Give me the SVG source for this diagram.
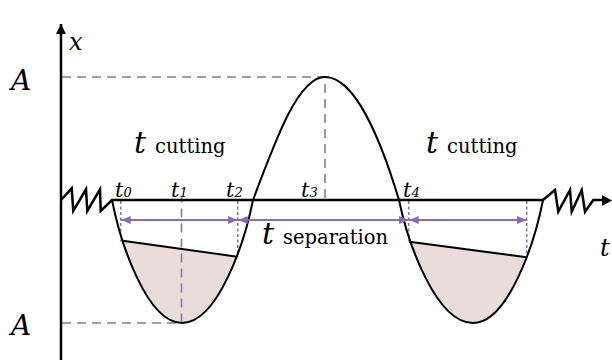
<svg xmlns="http://www.w3.org/2000/svg" width="612" height="360" viewBox="0 0 612 360">
<style>
.ax{stroke:#000;stroke-width:2.5;fill:none}
.curve{stroke:#000;stroke-width:2;fill:none}
.dash{stroke:#8677a6;stroke-width:1.6;stroke-dasharray:9,6;fill:none}
.dot{stroke:#8677a6;stroke-width:1.6;stroke-dasharray:3,2.5;fill:none}
.arr{stroke:#8a6cb2;stroke-width:1.8;fill:none}
.shade{fill:#e9dcda;stroke:none}
.lbl{font-family:"DejaVu Serif",serif;fill:#000}
</style>
<defs>
<marker id="ah" viewBox="0 0 10 8" refX="10" refY="4" markerWidth="10" markerHeight="8" markerUnits="userSpaceOnUse" orient="auto-start-reverse">
<path d="M0,0 L10,4 L0,8 Z" fill="#8a6cb2"/>
</marker>
<marker id="bh" viewBox="0 0 10 10" refX="10" refY="5" markerWidth="10" markerHeight="10" markerUnits="userSpaceOnUse" orient="auto">
<path d="M0,0 L10,5 L0,10 Z" fill="#000"/>
</marker>
<clipPath id="cl"><polygon points="100,237.5 260,259.9 260,340 100,340"/></clipPath>
<clipPath id="cr"><polygon points="390,239.1 550,260.4 550,340 390,340"/></clipPath>
</defs>

<g id="shading">
<path class="shade" clip-path="url(#cl)" d="M112,200 C120.4,243.05 147,323 182,323 C217.5,323 244.5,243.05 253,200 Z"/>
<path class="shade" clip-path="url(#cr)" d="M399,200 C407.9,243.05 436,323 473,323 C508,323 534.6,243.05 543,200 Z"/>
</g>

<g id="guides">
<path class="dash" d="M62,77 H325 V198"/>
<path class="dash" d="M62,323 H181.5 V197"/>
<path class="dot" d="M120.7,201 V241.5"/>
<path class="dot" d="M237.7,201 V256.5"/>
<path class="dot" d="M408.7,201 V241.5"/>
<path class="dot" d="M526.7,201 V257"/>
</g>

<g id="axes">
<line class="ax" x1="61" y1="360" x2="61" y2="24" marker-end="url(#bh)"/>
<polyline class="ax" stroke-width="2" points="61,200 71.7,188.3 73.3,211 86,189.3 87.3,211 100,189.3 100.7,211 112,200 543,200 555,190 558.3,211.7 570,190 571.7,211.7 581.7,190 585,211.7 593.3,200 604,200"/>
<path d="M602,195 L612,200.5 L602,206 Z" fill="#000"/>
</g>

<g id="wave">
<path class="curve" d="M112,200 C120.4,243.05 147,323 182,323 C217.5,323 244.5,243.05 253,200 C277.1,135.4 298.9,77 325,77 C354.6,77 380.5,138.5 399,200 C407.9,243.05 436,323 473,323 C508,323 534.6,243.05 543,200"/>
<line class="curve" x1="122.7" y1="240.7" x2="237.3" y2="256.7"/>
<line class="curve" x1="409.3" y1="241.7" x2="526.7" y2="257.3"/>
</g>

<g id="connectors">
<line class="arr" x1="120.7" y1="220" x2="237.7" y2="220" marker-start="url(#ah)" marker-end="url(#ah)"/>
<line class="arr" x1="237.7" y1="220" x2="408.7" y2="220" marker-start="url(#ah)" marker-end="url(#ah)"/>
<line class="arr" x1="408.7" y1="220" x2="526.7" y2="220" marker-start="url(#ah)" marker-end="url(#ah)"/>
</g>

<g id="labels" class="lbl">
<text font-style="italic" x="69" y="50" font-size="24">x</text>
<text font-style="italic" x="11" y="90" font-size="28">A</text>
<text font-style="italic" x="11" y="335" font-size="28">A</text>
<text x="134" y="153"><tspan font-style="italic" font-size="30">t</tspan><tspan font-size="19.5" dx="9">cutting</tspan></text>
<text x="426" y="153"><tspan font-style="italic" font-size="30">t</tspan><tspan font-size="19.5" dx="9">cutting</tspan></text>
<text x="262" y="244"><tspan font-style="italic" font-size="30">t</tspan><tspan font-size="19.5" dx="9">separation</tspan></text>
<text font-style="italic" x="600" y="256" font-size="24">t</text>
<text font-style="italic" x="115" y="197" font-size="21">t<tspan font-size="13">0</tspan></text>
<text font-style="italic" x="171" y="197" font-size="21">t<tspan font-size="13">1</tspan></text>
<text font-style="italic" x="226" y="197" font-size="21">t<tspan font-size="13">2</tspan></text>
<text font-style="italic" x="301" y="197" font-size="21">t<tspan font-size="13">3</tspan></text>
<text font-style="italic" x="403" y="197" font-size="21">t<tspan font-size="13">4</tspan></text>
</g>
</svg>
